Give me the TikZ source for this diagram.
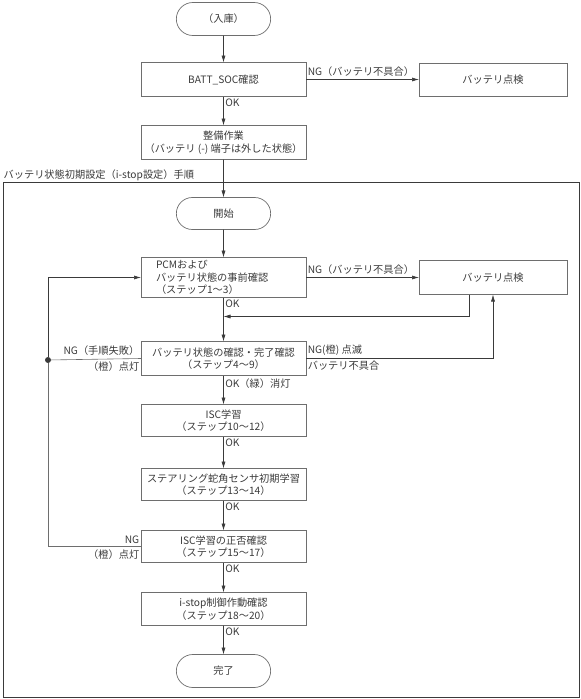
\documentclass[tikz,border=0pt]{standalone}
\usepackage{fontspec}
\setmainfont{Noto Sans CJK JP}
\usepackage{tikz}
\usetikzlibrary{arrows.meta,positioning,shapes.misc}
\definecolor{flowInk}{HTML}{3A3A3A}
\definecolor{flowEdge}{HTML}{6E6E6E}

\begin{document}
\begin{tikzpicture}[
  x=1pt, y=-1pt,
  font=\fontsize{10.2}{12.6}\selectfont,
  proc/.style={draw=flowEdge, line width=.8pt, minimum width=165pt, minimum height=34pt, align=center, inner sep=1pt, outer sep=0pt, text=flowInk},
  check/.style={proc, minimum width=148pt, minimum height=34pt},
  terminal/.style={draw=flowEdge, line width=.7pt, rounded rectangle, minimum width=101pt, minimum height=33pt, outer sep=0pt, text=flowInk},
  group/.style={draw=flowInk, line width=1.3pt, minimum width=576pt, minimum height=515pt, anchor=north west, inner sep=0pt},
  arrow/.style={-{Latex[length=7pt,width=4pt]}, line width=.6pt, draw=flowInk},
  link/.style={line width=.6pt, draw=flowEdge},
  junction/.style={circle, fill=flowInk, inner sep=0pt, minimum size=6pt},
  note/.style={text=flowInk, inner xsep=1.5pt, inner ysep=2.5pt}
]
  \useasboundingbox (0,0) rectangle (581,699);

  % outer procedure frame
  \node[group] (frame) at (2.5,182) {};
  \node[note, anchor=south west, inner sep=1pt] (title) at (frame.north west) {バッテリ状態初期設定（i-stop設定）手順};

  \node[terminal] (nyuko) at (223.5,19) {（入庫）};
  \node[proc, below=27pt of nyuko] (soc) {BATT\_SOC確認};
  \node[check, right=113pt of soc, minimum height=33pt] (batt1) {バッテリ点検};
  \node[proc, below=29pt of soc] (seibi) {整備作業\\（バッテリ (-) 端子は外した状態）};

  \node[terminal, below=38pt of seibi, minimum height=32pt] (kaishi) {開始};
  \node[proc, below=28pt of kaishi, minimum height=40pt, align=left, text width=135pt, inner xsep=15pt] (pcm) {PCMおよび\\バッテリ状態の事前確認\\（ステップ1～3）};
  \node[check, right=113pt of pcm] (batt2) {バッテリ点検};
  \node[proc, below=44pt of pcm] (kakunin) {バッテリ状態の確認・完了確認\\（ステップ4～9）};
  \node[proc, below=29pt of kakunin, minimum height=32pt] (isc) {ISC学習\\（ステップ10～12）};
  \node[proc, below=32pt of isc, minimum height=32pt] (steer) {ステアリング蛇角センサ初期学習\\（ステップ13～14）};
  \node[proc, below=30pt of steer, minimum height=32pt] (iscok) {ISC学習の正否確認\\（ステップ15～17）};
  \node[proc, below=30pt of iscok, minimum height=33pt] (istop) {i-stop制御作動確認\\（ステップ18～20）};
  \node[terminal, below=29pt of istop] (kanryo) {完了};

  \coordinate[below=19pt of pcm.south] (merge);
  \node[junction] (dot) at (48,360) {};

  \draw[arrow] (nyuko) -- (soc);
  \draw[arrow] (soc) -- node[note, pos=0, anchor=south west]{NG（バッテリ不具合）} (batt1);
  \draw[arrow] (soc) -- node[note, pos=0, anchor=north west]{OK} (seibi);
  \draw[arrow] (seibi) -- (kaishi);
  \draw[arrow] (kaishi) -- (pcm);
  \draw[arrow] (pcm) -- node[note, pos=0, anchor=south west]{NG（バッテリ不具合）} (batt2);
  \draw[arrow] (pcm) -- node[note, pos=0, anchor=north west]{OK} (kakunin);
  \draw[arrow] ([xshift=-24pt]batt2.south) |- (merge);
  \draw[arrow] (kakunin.east) -| node[note, pos=0, anchor=south west]{NG(橙) 点滅}
    node[note, pos=0, anchor=north west]{バッテリ不具合} (batt2.south);
  \draw[arrow] (kakunin) -- node[note, pos=0, anchor=north west]{OK（緑）消灯} (isc);
  \draw[arrow] (isc) -- node[note, pos=0, anchor=north west]{OK} (steer);
  \draw[arrow] (steer) -- node[note, pos=0, anchor=north west]{OK} (iscok);
  \draw[arrow] (iscok) -- node[note, pos=0, anchor=north west]{OK} (istop);
  \draw[arrow] (istop) -- node[note, pos=0, anchor=north west]{OK} (kanryo);

  % retry loop on the left
  \draw[link] (kakunin.west) -- node[note, pos=0, anchor=south east]{NG（手順失敗）}
    node[note, pos=0, anchor=north east]{（橙）点灯} (dot);
  \draw[link] (iscok.west) -| node[note, pos=0, anchor=south east]{NG}
    node[note, pos=0, anchor=north east]{（橙）点灯} (dot);
  \draw[arrow] (dot) |- (pcm.west);
\end{tikzpicture}
\end{document}
